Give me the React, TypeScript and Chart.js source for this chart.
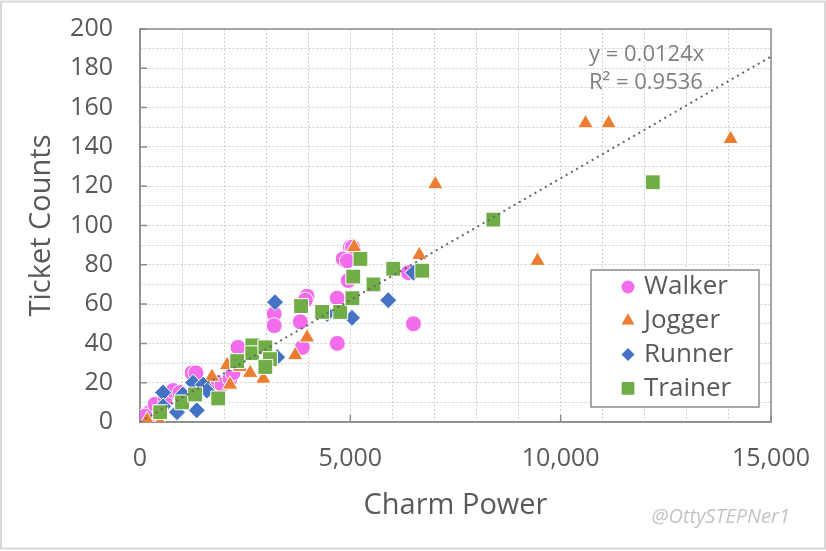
import React, { useEffect, useRef } from 'react'
import { Chart, registerables } from 'chart.js'
import { drawPoint } from 'chart.js/helpers'

Chart.register(...registerables)

// values
const seriesNames = ['Walker', 'Jogger', 'Runner', 'Trainer']

const walkerX = [170, 240, 120, 360, 600, 790, 950, 1240, 1330, 1860, 1950, 2140, 2210, 2280, 2330, 3190, 3190, 3810, 3860, 3970, 3930, 4690, 4690, 5000, 5050, 4830, 4930, 4950, 6500, 6380]
const walkerY = [1, 5, 3, 9, 12, 16, 15, 25, 25, 20, 19, 22, 25, 32, 38, 55, 49, 51, 38, 64, 62, 63, 40, 89, 89, 83, 82, 72, 50, 76]

const joggerX = [170, 480, 1710, 2140, 2070, 2380, 2620, 2930, 3690, 3970, 5090, 6640, 7020, 9450, 10590, 11140, 14040]
const joggerY = [1, 0, 23, 19, 29, 28, 25, 22, 34, 43, 89, 85, 121, 82, 152, 152, 144]

const runnerX = [550, 550, 880, 1020, 1350, 1260, 1500, 1590, 3210, 3260, 4450, 5040, 5900, 6500]
const runnerY = [15, 8, 5, 14, 6, 20, 19, 16, 61, 33, 55, 53, 62, 76]

const trainerX = [480, 1000, 1310, 1860, 2310, 2670, 2670, 2980, 3090, 2980, 3830, 4330, 4760, 5050, 5070, 5240, 5550, 6020, 6710, 8400, 12190]
const trainerY = [5, 10, 14, 12, 31, 39, 35, 38, 32, 28, 59, 56, 56, 63, 74, 83, 70, 78, 77, 103, 122]

const trendSlope = 0.0124
const trendR2 = 0.9536

const xMax = 15000
const xTickStep = 1000
const xLabelStep = 5000
const yMax = 200
const yTickStep = 10
const yLabelStep = 20

const colors = ['#F36CEB', '#ED7D31', '#4472C4', '#70AD47']
const pointStyles = ['circle', 'triangle', 'rectRot', 'rect']
const pointRadii = [8, 9, 8.5, 10.5]
const legendRadii = [6.5, 7.5, 6.5, 9]

const FONT = '"Open Sans", "Noto Sans", sans-serif'
const textColor = '#595959'
const axisColor = '#8C8C8C'
const gridColor = '#CFCFCF'

const toPoints = (xs: number[], ys: number[]) => xs.map((x, i) => ({ x, y: ys[i] }))

// keep the plot box where the layout padding puts it
const noScalePadding = (scale: any) => {
  scale.paddingTop = 0
  scale.paddingBottom = 0
  scale.paddingLeft = 0
  scale.paddingRight = 0
}

const decorPlugin = {
  id: 'decor',
  beforeDatasetsDraw(chart: any) {
    const { ctx, chartArea: a, scales } = chart
    ctx.save()
    ctx.strokeStyle = axisColor
    ctx.lineWidth = 1.5
    ctx.strokeRect(a.left, a.top, a.right - a.left, a.bottom - a.top)
    // major tick marks point inward
    ctx.beginPath()
    scales.y.ticks.forEach((t: any) => {
      if (t.value % yLabelStep !== 0) return
      const py = scales.y.getPixelForValue(t.value)
      ctx.moveTo(a.left, py)
      ctx.lineTo(a.left + 7, py)
    })
    scales.x.ticks.forEach((t: any) => {
      if (t.value % xLabelStep !== 0) return
      const px = scales.x.getPixelForValue(t.value)
      ctx.moveTo(px, a.bottom)
      ctx.lineTo(px, a.bottom - 7)
    })
    ctx.stroke()
    ctx.restore()
  },
  afterDraw(chart: any) {
    const { ctx, chartArea: a } = chart
    ctx.save()

    // trendline equation
    ctx.fillStyle = '#7F7F7F'
    ctx.font = `22px ${FONT}`
    ctx.textAlign = 'left'
    ctx.textBaseline = 'middle'
    ctx.fillText(`y = ${trendSlope}x`, a.right - 182, a.top + 26)
    ctx.fillText(`R² = ${trendR2}`, a.right - 182, a.top + 54)

    // legend
    const bx = a.right - 180
    const by = a.bottom - 152
    ctx.fillStyle = '#FFFFFF'
    ctx.fillRect(bx, by, 168, 137)
    ctx.strokeStyle = axisColor
    ctx.lineWidth = 1.5
    ctx.strokeRect(bx, by, 168, 137)
    seriesNames.forEach((name, i) => {
      const cy = by + 17 + i * 33.8
      ctx.fillStyle = colors[i]
      ctx.strokeStyle = colors[i]
      drawPoint(ctx, { pointStyle: pointStyles[i], radius: legendRadii[i], rotation: 0, borderWidth: 0 } as any, bx + 37, cy)
      ctx.fillStyle = textColor
      ctx.font = `26px ${FONT}`
      ctx.textAlign = 'left'
      ctx.textBaseline = 'middle'
      ctx.fillText(name, bx + 53, cy)
    })

    // watermark
    ctx.fillStyle = '#C4C4C4'
    ctx.font = `italic 20px ${FONT}`
    ctx.textAlign = 'right'
    ctx.fillText('@OttySTEPNer1', 790, 517)

    // outer frame
    ctx.strokeStyle = '#D9D9D9'
    ctx.lineWidth = 2
    ctx.strokeRect(1, 1.5, chart.width - 2, chart.height - 4)
    ctx.restore()
  },
}

const App: React.FC = () => {
  const canvasRef = useRef<HTMLCanvasElement>(null)
  const chartRef = useRef<Chart | null>(null)

  useEffect(() => {
    if (!canvasRef.current) return
    const seriesData = [
      toPoints(walkerX, walkerY),
      toPoints(joggerX, joggerY),
      toPoints(runnerX, runnerY),
      toPoints(trainerX, trainerY),
    ]

    chartRef.current = new Chart(canvasRef.current, {
      type: 'scatter',
      data: {
        datasets: [
          ...seriesNames.map((name, i) => ({
            label: name,
            data: seriesData[i],
            pointStyle: pointStyles[i],
            pointRadius: pointRadii[i],
            backgroundColor: colors[i],
            borderColor: '#FFFFFF',
            borderWidth: 1,
            order: 4 - i,
          })),
          {
            label: 'Trend',
            data: [
              { x: 0, y: 0 },
              { x: xMax, y: xMax * trendSlope },
            ],
            showLine: true,
            pointRadius: 0,
            borderColor: '#666666',
            borderWidth: 2,
            borderDash: [2, 4],
            order: 0,
          } as any,
        ],
      },
      options: {
        responsive: false,
        animation: false,
        events: [],
        layout: { padding: { left: 0, top: 29, right: 55, bottom: 0 } },
        plugins: {
          legend: { display: false },
          tooltip: { enabled: false },
        },
        scales: {
          x: {
            type: 'linear',
            min: 0,
            max: xMax,
            afterFit: (scale: any) => {
              scale.height = 129
              noScalePadding(scale)
            },
            ticks: {
              stepSize: xTickStep,
              autoSkip: false,
              maxRotation: 0,
              padding: 22,
              color: textColor,
              font: { family: FONT, size: 25 },
              callback: (v: any) => (Number(v) % xLabelStep === 0 ? Number(v).toLocaleString('en-US') : ''),
            },
            grid: { color: gridColor, lineWidth: 1, drawTicks: false },
            border: { display: true, color: axisColor, width: 1.5, dash: [2, 2] },
            title: {
              display: true,
              text: 'Charm Power',
              color: textColor,
              font: { family: FONT, size: 29 },
              padding: { top: 0, bottom: 28 },
            },
          },
          y: {
            type: 'linear',
            min: 0,
            max: yMax,
            afterFit: (scale: any) => {
              scale.width = 140
              noScalePadding(scale)
            },
            ticks: {
              stepSize: yTickStep,
              autoSkip: false,
              padding: 27,
              color: textColor,
              font: { family: FONT, size: 25 },
              callback: (v: any) => (Number(v) % yLabelStep === 0 ? String(v) : ''),
            },
            grid: { color: gridColor, lineWidth: 1, drawTicks: false },
            border: { display: true, color: axisColor, width: 1.5, dash: [2, 2] },
            title: {
              display: true,
              text: 'Ticket Counts',
              color: textColor,
              font: { family: FONT, size: 29 },
              padding: { top: 24, bottom: 0 },
            },
          },
        },
      },
      plugins: [decorPlugin],
    })

    return () => {
      if (chartRef.current) chartRef.current.destroy()
    }
  }, [])

  return (
    <div style={{ position: 'absolute', left: 0, top: 0, width: 826, height: 551, background: '#FFFFFF' }}>
      <canvas ref={canvasRef} width={826} height={551} />
    </div>
  )
}

export default App
